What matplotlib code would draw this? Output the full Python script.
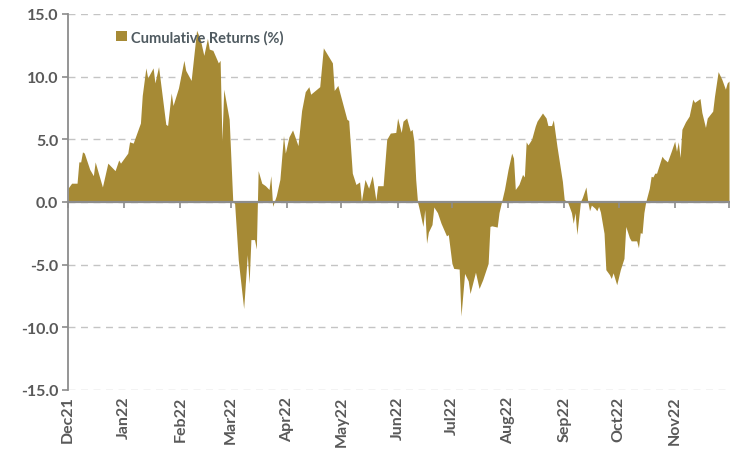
import numpy as np
import pandas as pd
import matplotlib
matplotlib.use('Agg')
from matplotlib import pyplot as plt
from matplotlib.patches import Patch

plt.rcParams['font.family'] = ['Lato', 'DejaVu Sans']

# Cumulative returns (%)
dates = ['2021-12-01', '2021-12-03', '2021-12-06', '2021-12-07', '2021-12-08', '2021-12-09',
         '2021-12-10', '2021-12-13', '2021-12-15', '2021-12-16', '2021-12-20', '2021-12-23',
         '2021-12-27', '2021-12-29', '2021-12-30', '2022-01-03', '2022-01-04', '2022-01-06',
         '2022-01-10', '2022-01-11', '2022-01-13', '2022-01-14', '2022-01-17', '2022-01-18',
         '2022-01-20', '2022-01-24', '2022-01-25', '2022-01-27', '2022-01-28', '2022-01-31',
         '2022-02-03', '2022-02-04', '2022-02-07', '2022-02-10', '2022-02-12', '2022-02-14',
         '2022-02-16', '2022-02-17', '2022-02-19', '2022-02-22', '2022-02-23', '2022-02-24',
         '2022-02-25', '2022-02-28', '2022-03-02', '2022-03-03', '2022-03-05', '2022-03-08',
         '2022-03-10', '2022-03-11', '2022-03-12', '2022-03-14', '2022-03-15', '2022-03-16',
         '2022-03-18', '2022-03-20', '2022-03-22', '2022-03-23', '2022-03-24', '2022-03-26',
         '2022-03-28', '2022-03-30', '2022-03-31', '2022-04-02', '2022-04-04', '2022-04-07',
         '2022-04-09', '2022-04-11', '2022-04-13', '2022-04-14', '2022-04-19', '2022-04-21',
         '2022-04-26', '2022-04-27', '2022-04-29', '2022-05-04', '2022-05-05', '2022-05-07',
         '2022-05-09', '2022-05-11', '2022-05-12', '2022-05-14', '2022-05-16', '2022-05-18',
         '2022-05-20', '2022-05-21', '2022-05-24', '2022-05-26', '2022-05-28', '2022-05-31',
         '2022-06-01', '2022-06-03', '2022-06-04', '2022-06-06', '2022-06-08', '2022-06-09',
         '2022-06-10', '2022-06-11', '2022-06-12', '2022-06-13', '2022-06-15', '2022-06-16',
         '2022-06-17', '2022-06-18', '2022-06-20', '2022-06-21', '2022-06-23', '2022-06-25',
         '2022-06-28', '2022-06-29', '2022-07-01', '2022-07-02', '2022-07-05', '2022-07-06',
         '2022-07-08', '2022-07-10', '2022-07-11', '2022-07-14', '2022-07-16', '2022-07-18',
         '2022-07-21', '2022-07-22', '2022-07-23', '2022-07-26', '2022-07-27', '2022-07-30',
         '2022-08-01', '2022-08-03', '2022-08-04', '2022-08-05', '2022-08-07', '2022-08-09',
         '2022-08-10', '2022-08-11', '2022-08-12', '2022-08-14', '2022-08-16', '2022-08-17',
         '2022-08-20', '2022-08-22', '2022-08-23', '2022-08-25', '2022-08-26', '2022-08-28',
         '2022-08-31', '2022-09-01', '2022-09-02', '2022-09-03', '2022-09-05', '2022-09-06',
         '2022-09-07', '2022-09-08', '2022-09-10', '2022-09-11', '2022-09-13', '2022-09-14',
         '2022-09-15', '2022-09-16', '2022-09-18', '2022-09-19', '2022-09-20', '2022-09-21',
         '2022-09-23', '2022-09-24', '2022-09-26', '2022-09-27', '2022-09-28', '2022-09-30',
         '2022-10-02', '2022-10-04', '2022-10-05', '2022-10-07', '2022-10-08', '2022-10-11',
         '2022-10-12', '2022-10-13', '2022-10-14', '2022-10-15', '2022-10-16', '2022-10-18',
         '2022-10-19', '2022-10-20', '2022-10-21', '2022-10-22', '2022-10-25', '2022-10-26',
         '2022-10-28', '2022-10-30', '2022-11-01', '2022-11-02', '2022-11-03', '2022-11-04',
         '2022-11-05', '2022-11-07', '2022-11-09', '2022-11-11', '2022-11-12', '2022-11-15',
         '2022-11-16', '2022-11-18', '2022-11-19', '2022-11-22', '2022-11-23', '2022-11-25',
         '2022-11-27', '2022-11-29', '2022-11-30', '2022-12-01']

cum_ret = [1.1, 1.5, 1.5, 3.2, 3.2, 4.0,
           3.9, 2.6, 2.1, 3.2, 1.2, 3.1,
           2.5, 3.35, 3.1, 3.9, 4.8, 4.7,
           6.3, 8.5, 10.7, 9.9, 10.7, 9.5,
           10.8, 6.2, 6.1, 8.7, 7.7, 9.1,
           11.3, 10.5, 9.7, 13.7, 13.0, 11.7,
           13.05, 12.2, 12.1, 11.1, 11.3, 4.9,
           9.0, 6.6, 0.0, -0.1, -4.6, -8.5,
           -4.2, -6.5, -3.0, -3.0, -3.75, 2.5,
           1.5, 1.3, 1.0, 2.1, -0.35, 0.5,
           1.8, 5.3, 3.9, 5.2, 5.75, 4.5,
           7.3, 8.8, 9.2, 8.6, 9.2, 12.3,
           11.1, 8.9, 9.3, 6.6, 6.5, 2.3,
           1.4, 1.6, 0.05, 1.8, 1.1, 2.1,
           0.15, 1.3, 1.3, 5.0, 5.5, 5.55,
           6.7, 5.55, 6.45, 6.7, 5.65, 5.8,
           4.85, 1.8, 0.0, -0.6, -1.95, -0.6,
           -3.3, -2.4, -1.8, -0.4, -0.85, -1.7,
           -2.7, -2.6, -4.9, -5.3, -5.35, -9.1,
           -5.7, -6.3, -7.3, -5.6, -6.9, -6.2,
           -4.9, -1.95, -1.9, -2.0, -0.85, 1.0,
           2.6, 3.9, 3.5, 1.0, 1.4, 2.2,
           2.0, 4.8, 4.55, 5.0, 6.05, 6.45,
           7.1, 6.7, 6.1, 6.1, 6.55, 4.45,
           1.65, 0.2, 0.1, -0.05, -0.85, -1.7,
           -0.85, -2.6, 0.05, 0.35, 1.2, 0.05,
           -0.7, -0.25, -0.5, -0.7, -0.35, -0.8,
           -2.5, -5.4, -5.8, -6.1, -5.65, -6.6,
           -5.4, -4.5, -1.95, -2.85, -3.1, -3.1,
           -3.65, -2.45, -2.5, -0.85, 0.0, 1.1,
           2.05, 2.0, 2.3, 2.3, 3.65, 3.45,
           3.2, 4.0, 4.85, 4.05, 4.8, 3.55,
           5.8, 6.4, 6.85, 8.2, 7.95, 8.25,
           7.15, 5.95, 6.7, 7.25, 8.45, 10.4,
           9.8, 9.0, 9.5, 9.65]

month_starts = pd.date_range('2021-12-01', '2022-12-01', freq='MS')
month_labels = ['Dec21', 'Jan22', 'Feb22', 'Mar22', 'Apr22', 'May22',
                'Jun22', 'Jul22', 'Aug22', 'Sep22', 'Oct22', 'Nov22']
y_ticks = [-15, -10, -5, 0, 5, 10, 15]

gold = '#a68a35'
txt = '#595959'
axis_gray = '#8c8c8c'

x = pd.to_datetime(dates)
y = np.array(cum_ret)

fig = plt.figure(figsize=(7.30, 4.52), dpi=100)
ax = fig.add_axes([68/730, 1-391/452, 661/730, 376/452])

ax.fill_between(x, y, 0, color=gold, linewidth=0, zorder=2)

ax.set_xlim(pd.Timestamp('2021-12-01'), pd.Timestamp('2022-12-01'))
ax.set_ylim(-15, 15)
ax.set_yticks(y_ticks)
ax.set_yticklabels(['%.1f' % v for v in y_ticks])
ax.yaxis.grid(True, linestyle=(0, (5, 4)), color='#c4c4c4', linewidth=1.0, zorder=0)
ax.set_axisbelow(True)

for s in ['top', 'right', 'bottom']:
    ax.spines[s].set_visible(False)
ax.spines['left'].set_color(axis_gray)
ax.spines['left'].set_linewidth(1.3)

ax.set_xticks(month_starts[:-1])
ax.set_xticklabels(month_labels, rotation=90)
ax.tick_params(axis='x', length=0, pad=4, labelsize=11.5, labelcolor=txt)
ax.tick_params(axis='y', length=4, width=1.2, color=axis_gray, pad=3,
               labelsize=11.5, labelcolor=txt)
for lab in ax.get_xticklabels() + ax.get_yticklabels():
    lab.set_fontweight('bold')

# zero line with month ticks, drawn over the area
# (at location 0.5 the secondary axis uses its top spine/ticks)
sec = ax.secondary_xaxis(0.5)
sec.set_zorder(5)
sec.set_xticks(month_starts)
sec.set_xticklabels([])
for s in ['top', 'bottom']:
    sec.spines[s].set_color(axis_gray)
    sec.spines[s].set_linewidth(1.6)
sec.tick_params(axis='x', which='both', direction='in', length=4.5, width=1.2,
                color=axis_gray)

leg = ax.legend(handles=[Patch(facecolor=gold, edgecolor='none')],
                labels=['Cumulative Returns (%)'],
                loc='center left', bbox_to_anchor=(0.072, 0.939),
                frameon=False, handlelength=0.75, handleheight=0.75,
                handletextpad=0.3, borderpad=0, borderaxespad=0,
                prop={'weight': 'bold', 'size': 10.5})
for t in leg.get_texts():
    t.set_color('#4f5a60')

fig.savefig('out.png', dpi=100)
